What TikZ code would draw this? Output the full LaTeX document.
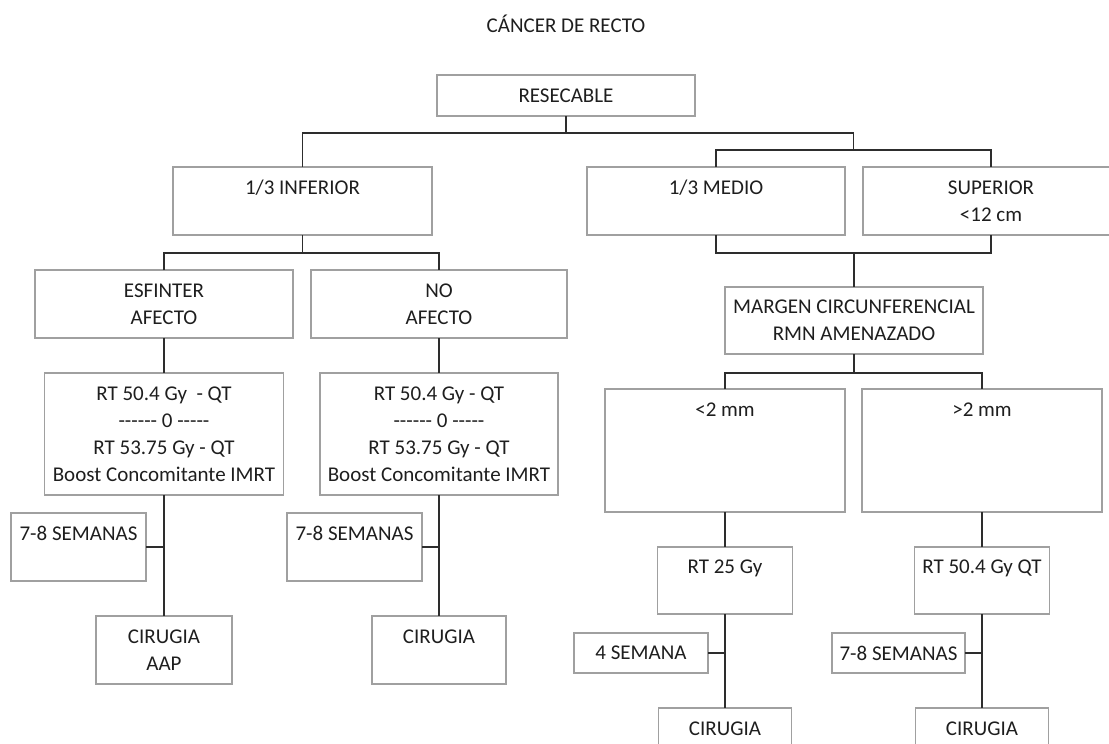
\documentclass[tikz,border=0pt]{standalone}
\usepackage{fontspec}
\setmainfont{Carlito}
\usetikzlibrary{positioning,calc}
\definecolor{boxgray}{RGB}{160,160,160}
\definecolor{linegray}{RGB}{45,45,45}
\definecolor{txtgray}{RGB}{30,30,30}

\begin{document}
\begin{tikzpicture}[x=1pt,y=-1pt,font=\fontsize{21pt}{27pt}\selectfont,text=txtgray,
  bx/.style={draw=boxgray,line width=1.5pt,align=center,inner sep=2pt,outer sep=0pt,minimum height=68pt},
  ln/.style={draw=linegray,line width=1.5pt}]
\path[use as bounding box,clip] (0,0) rectangle (1109,744);
% top levels
\node (titulo) at (566,24) {CÁNCER DE RECTO};
\node[bx,minimum width=258pt,minimum height=41pt] (resec) at (566,95.5) {RESECABLE};
\node[bx,minimum width=259pt] (inf) at (302.5,201) {1/3 INFERIOR\\~};
\node[bx,minimum width=258pt] (med) at (716,201) {1/3 MEDIO\\~};
\node[bx,minimum width=256pt] (sup) at (991,201) {SUPERIOR\\<12 cm};
% 1/3 inferior
\node[bx,minimum width=258pt] (esf) at (164,304) {ESFINTER\\AFECTO};
\node[bx,minimum width=256pt] (noaf) at (439,304) {NO\\AFECTO};
\node[bx,minimum width=239pt,minimum height=122pt,below=35pt of esf] (rtA)
  {RT 50.4 Gy\ \ - QT\\-{}-{}-{}-{}-{}- 0 -{}-{}-{}-{}-\\RT 53.75 Gy - QT\\Boost Concomitante IMRT};
\node[bx,minimum width=238pt,minimum height=122pt,below=35pt of noaf] (rtB)
  {RT 50.4 Gy - QT\\-{}-{}-{}-{}-{}- 0 -{}-{}-{}-{}-\\RT 53.75 Gy - QT\\Boost Concomitante IMRT};
\node[bx,minimum width=135pt] (semA) at (78.5,547) {7-8 SEMANAS\\~};
\node[bx,minimum width=135pt] (semB) at (354.5,547) {7-8 SEMANAS\\~};
\node[bx,minimum width=136pt,below=121pt of rtA] (cirA) {CIRUGIA\\AAP};
\node[bx,minimum width=134pt,below=121pt of rtB] (cirB) {CIRUGIA\\~};
% medio / superior
\node[bx,minimum width=258pt,minimum height=67pt] (marg) at (854,320.5) {MARGEN CIRCUNFERENCIAL\\RMN AMENAZADO};
\node[bx,minimum width=240pt,minimum height=123pt] (lt2) at (725,450.5) {<2 mm\\~\\~\\~};
\node[bx,minimum width=240pt,minimum height=123pt] (gt2) at (982,450.5) {>2 mm\\~\\~\\~};
\node[bx,minimum width=135pt,minimum height=67pt,below=35pt of lt2] (rt25) {RT 25 Gy\\~};
\node[bx,minimum width=135pt,minimum height=67pt,below=35pt of gt2] (rt50) {RT 50.4 Gy QT\\~};
\node[bx,minimum width=134pt,minimum height=40pt] (sem4) at (641,653) {4 SEMANA};
\node[bx,minimum width=133pt,minimum height=40pt] (semD) at (898.5,653) {7-8 SEMANAS};
\node[bx,minimum width=133pt,below=94pt of rt25] (cirC) {CIRUGIA\\~};
\node[bx,minimum width=133pt,below=94pt of rt50] (cirD) {CIRUGIA\\~};
% connectors
\draw[ln] (resec.south) -- ++(0pt,-17pt) coordinate (r1);
\coordinate (j1) at ($(med.north)!.5!(sup.north)+(0pt,17pt)$);
\draw[ln] (inf.north) |- (r1) -| (j1);
\draw[ln] (med.north) |- (j1) -| (sup.north);
\coordinate (j2) at ($(marg.north)+(0pt,34pt)$);
\draw[ln] (med.south) |- (j2) -| (sup.south);
\draw[ln] (j2) -- (marg.north);
\coordinate (j3) at ($(inf.south)+(0pt,-18pt)$);
\draw[ln] (inf.south) -- (j3);
\draw[ln] (esf.north) |- (j3) -| (noaf.north);
\draw[ln] (esf.south) -- (rtA.north);
\draw[ln] (noaf.south) -- (rtB.north);
\draw[ln] (rtA.south) -- (cirA.north);
\draw[ln] (rtB.south) -- (cirB.north);
\draw[ln] (semA.east) -- (semA.east -| rtA.south);
\draw[ln] (semB.east) -- (semB.east -| rtB.south);
\coordinate (j4) at ($(marg.south)+(0pt,-19pt)$);
\draw[ln] (marg.south) -- (j4);
\draw[ln] (lt2.north) |- (j4) -| (gt2.north);
\draw[ln] (lt2.south) -- (rt25.north);
\draw[ln] (gt2.south) -- (rt50.north);
\draw[ln] (rt25.south) -- (cirC.north);
\draw[ln] (rt50.south) -- (cirD.north);
\draw[ln] (sem4.east) -- (sem4.east -| rt25.south);
\draw[ln] (semD.east) -- (semD.east -| rt50.south);
\end{tikzpicture}
\end{document}
